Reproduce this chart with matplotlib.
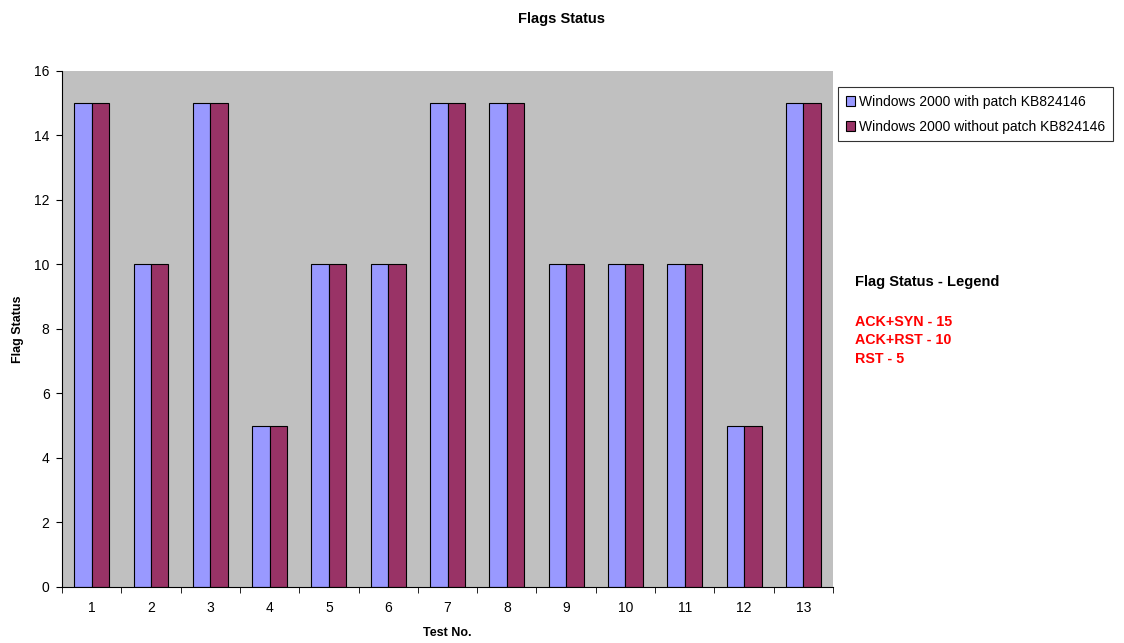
import matplotlib.pyplot as plt
import numpy as np

plt.rcParams['font.family'] = ['Liberation Sans', 'DejaVu Sans']

tests = ["1", "2", "3", "4", "5", "6", "7", "8", "9", "10", "11", "12", "13"]
with_patch = [15, 10, 15, 5, 10, 10, 15, 15, 10, 10, 10, 5, 15]
without_patch = [15, 10, 15, 5, 10, 10, 15, 15, 10, 10, 10, 5, 15]
series_names = ["Windows 2000 with patch KB824146", "Windows 2000 without patch KB824146"]
flag_notes = ["ACK+SYN - 15", "ACK+RST - 10", "RST - 5"]

fig = plt.figure(figsize=(11.24, 6.43), dpi=100)
ax = fig.add_axes([0.0552, 0.0871, 0.6859, 0.8025])
ax.set_facecolor("#C0C0C0")

x = np.arange(len(tests))
w = 0.295
ax.bar(x - w / 2, with_patch, w, color="#9999FF", edgecolor="black", linewidth=0.8, label=series_names[0])
ax.bar(x + w / 2, without_patch, w, color="#993366", edgecolor="black", linewidth=0.8, label=series_names[1])

ax.set_xlim(-0.5, len(tests) - 0.5)
ax.set_ylim(0, 16)
ax.set_yticks(range(0, 17, 2))
ax.set_xticks(x)
ax.set_xticklabels(tests, fontsize=10)
ax.set_xticks(np.arange(-0.5, len(tests)), minor=True)
ax.tick_params(axis="x", which="major", length=0, pad=10)
ax.tick_params(axis="x", which="minor", length=4, direction="out")
ax.tick_params(axis="y", labelsize=10, length=4, direction="out", pad=5)

for s in ["top", "right"]:
    ax.spines[s].set_visible(False)
for s in ["left", "bottom"]:
    ax.spines[s].set_color("black")
    ax.spines[s].set_linewidth(0.8)

ax.set_xlabel("Test No.", fontsize=9, fontweight="bold", labelpad=9)
ax.set_ylabel("Flag Status", fontsize=9, fontweight="bold", labelpad=7)
fig.text(0.5, 0.971, "Flags Status", ha="center", va="center", fontsize=10.5, fontweight="bold")

leg = fig.legend(loc="upper left", bbox_to_anchor=(0.7455, 0.864), fontsize=10,
                 frameon=True, fancybox=False, edgecolor="black",
                 handlelength=0.7, handleheight=0.7, handletextpad=0.3,
                 borderpad=0.55, labelspacing=0.75, borderaxespad=0)
leg.get_frame().set_linewidth(0.8)

fig.text(0.7605, 0.561, "Flag Status - Legend", fontsize=10.5, fontweight="bold", va="center")
for i, note in enumerate(flag_notes):
    fig.text(0.7605, 0.499 - i * 0.0285, note, fontsize=10.3, fontweight="bold", color="#FF0000", va="center")

fig.savefig("out.png", dpi=100)
